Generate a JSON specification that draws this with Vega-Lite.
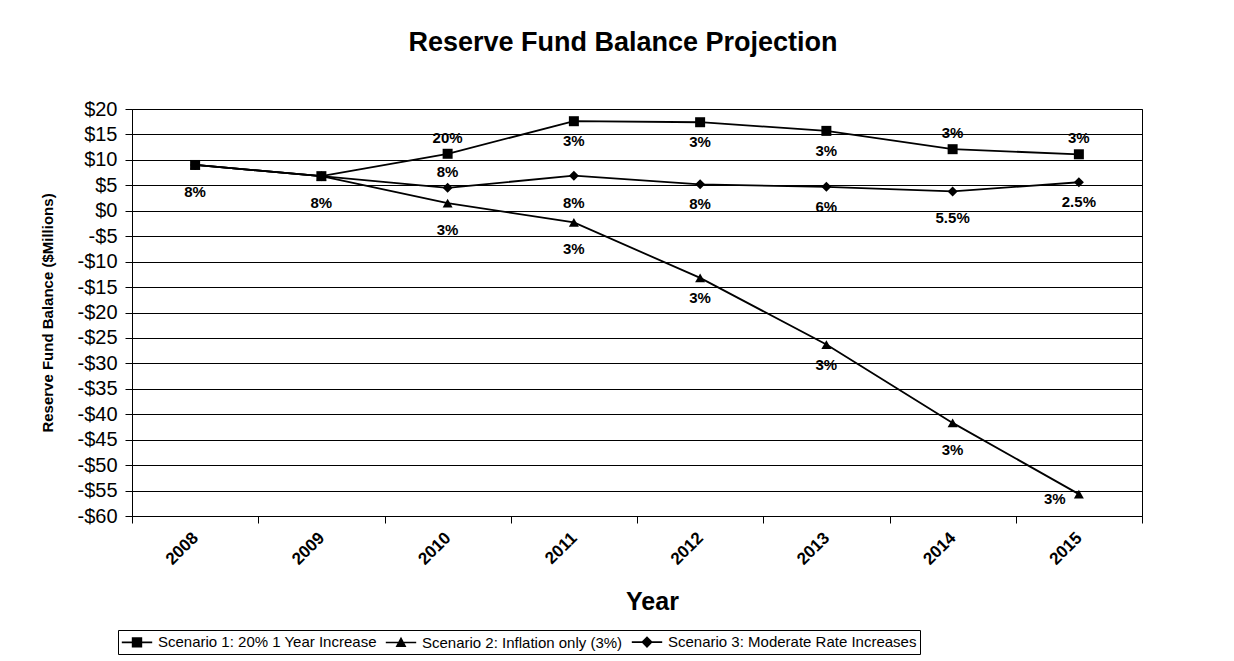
{
  "$schema": "https://vega.github.io/schema/vega-lite/v6.json",
  "width": 1010,
  "height": 407,
  "autosize": "none",
  "padding": {"left": 132, "top": 109, "right": 92, "bottom": 145},
  "background": "white",
  "config": {
    "font": "Liberation Sans",
    "view": {"stroke": "black", "strokeWidth": 1},
    "axis": {"domainColor": "black", "tickColor": "black", "gridColor": "black", "labelColor": "black", "titleColor": "black", "gridOpacity": 1}
  },
  "title": {"text": "Reserve Fund Balance Projection", "fontSize": 27, "font": "Liberation Sans", "fontWeight": "bold", "anchor": "middle", "dx": -14, "offset": 42, "color": "black"},
  "data": {
    "values": [
      {"year": "2008", "series": "Scenario 1: 20% 1 Year Increase", "value": 9.0, "label": "8%"},
      {"year": "2009", "series": "Scenario 1: 20% 1 Year Increase", "value": 6.8, "label": "8%"},
      {"year": "2010", "series": "Scenario 1: 20% 1 Year Increase", "value": 11.2, "label": "20%"},
      {"year": "2011", "series": "Scenario 1: 20% 1 Year Increase", "value": 17.6, "label": "3%"},
      {"year": "2012", "series": "Scenario 1: 20% 1 Year Increase", "value": 17.4, "label": "3%"},
      {"year": "2013", "series": "Scenario 1: 20% 1 Year Increase", "value": 15.7, "label": "3%"},
      {"year": "2014", "series": "Scenario 1: 20% 1 Year Increase", "value": 12.1, "label": "3%"},
      {"year": "2015", "series": "Scenario 1: 20% 1 Year Increase", "value": 11.1, "label": "3%"},
      {"year": "2008", "series": "Scenario 2: Inflation only (3%)", "value": 9.0, "label": null},
      {"year": "2009", "series": "Scenario 2: Inflation only (3%)", "value": 6.8, "label": null},
      {"year": "2010", "series": "Scenario 2: Inflation only (3%)", "value": 1.5, "label": "3%"},
      {"year": "2011", "series": "Scenario 2: Inflation only (3%)", "value": -2.3, "label": "3%"},
      {"year": "2012", "series": "Scenario 2: Inflation only (3%)", "value": -13.2, "label": "3%"},
      {"year": "2013", "series": "Scenario 2: Inflation only (3%)", "value": -26.3, "label": "3%"},
      {"year": "2014", "series": "Scenario 2: Inflation only (3%)", "value": -41.7, "label": "3%"},
      {"year": "2015", "series": "Scenario 2: Inflation only (3%)", "value": -55.7, "label": "3%"},
      {"year": "2008", "series": "Scenario 3: Moderate Rate Increases", "value": 9.0, "label": null},
      {"year": "2009", "series": "Scenario 3: Moderate Rate Increases", "value": 6.8, "label": null},
      {"year": "2010", "series": "Scenario 3: Moderate Rate Increases", "value": 4.5, "label": "8%"},
      {"year": "2011", "series": "Scenario 3: Moderate Rate Increases", "value": 6.9, "label": "8%"},
      {"year": "2012", "series": "Scenario 3: Moderate Rate Increases", "value": 5.2, "label": "8%"},
      {"year": "2013", "series": "Scenario 3: Moderate Rate Increases", "value": 4.7, "label": "6%"},
      {"year": "2014", "series": "Scenario 3: Moderate Rate Increases", "value": 3.8, "label": "5.5%"},
      {"year": "2015", "series": "Scenario 3: Moderate Rate Increases", "value": 5.6, "label": "2.5%"}
    ]
  },
  "encoding": {
    "x": {
      "field": "year", "type": "ordinal",
      "scale": {"type": "band", "paddingInner": 0, "paddingOuter": 0},
      "axis": {"title": "Year", "titleFontSize": 25, "titleFontWeight": "bold", "titlePadding": 22, "titleX": 520, "labelAngle": -45, "labelAlign": "right", "labelBaseline": "middle", "labelFontSize": 17, "labelFontWeight": "bold", "tickBand": "extent", "tickSize": 7, "labelPadding": 12, "grid": false}
    },
    "y": {
      "field": "value", "type": "quantitative",
      "scale": {"domain": [-60, 20], "nice": false, "zero": false},
      "axis": {"title": "Reserve Fund Balance ($Millions)", "titleFontSize": 15, "titleFontWeight": "bold", "titlePadding": 21, "values": [-60, -55, -50, -45, -40, -35, -30, -25, -20, -15, -10, -5, 0, 5, 10, 15, 20], "labelExpr": "(datum.value < 0 ? '-' : '') + '$' + abs(datum.value)", "labelFontSize": 20, "tickSize": 7, "labelPadding": 8, "grid": true, "gridWidth": 1}
    }
  },
  "layer": [
    {"mark": {"type": "line", "color": "black", "strokeWidth": 1.8}, "encoding": {"detail": {"field": "series"}}},
    {"mark": {"type": "point", "filled": true, "color": "black", "size": 100, "opacity": 1},
     "encoding": {"shape": {"field": "series", "type": "nominal", "scale": {"range": ["square", "triangle-up", "diamond"]}, "legend": null}}},
    {"transform": [{"filter": "false"}],
     "mark": {"type": "point", "filled": true, "fill": "black", "stroke": "black", "strokeWidth": 1.5, "opacity": 1},
     "encoding": {"shape": {"field": "series", "type": "nominal",
       "scale": {"domain": ["Scenario 1: 20% 1 Year Increase", "Scenario 2: Inflation only (3%)", "Scenario 3: Moderate Rate Increases"],
                 "range": ["M-1.9,-0.1H1.9V0.1H-1.9ZM-0.65,-0.65H0.65V0.65H-0.65Z", "M-1.9,-0.1H1.9V0.1H-1.9ZM0,-0.72L0.68,0.56H-0.68Z", "M-1.9,-0.1H1.9V0.1H-1.9ZM0,-0.72L0.72,0L0,0.72L-0.72,0Z"]},
       "legend": {"title": null, "orient": "none", "legendX": -14, "legendY": 521, "direction": "horizontal", "symbolSize": 256, "symbolOffset": 7, "symbolOpacity": 1, "symbolFillColor": "black", "symbolStrokeColor": "black", "symbolStrokeWidth": 1.5, "labelFontSize": 15, "labelColor": "black", "labelLimit": 500, "strokeColor": "black", "padding": 3, "columnPadding": 5, "labelOffset": 12}}}},
    {"transform": [{"filter": "datum.label != null && indexof(['1-2010','1-2014','1-2015','3-2010'], substring(datum.series,9,10) + '-' + datum.year) >= 0"}],
     "mark": {"type": "text", "fontSize": 15, "fontWeight": "bold", "color": "black", "dy": -16},
     "encoding": {"text": {"field": "label"}}},
    {"transform": [{"filter": "datum.label != null && indexof(['1-2008','1-2009','2-2010','2-2011','2-2014','3-2011','3-2014'], substring(datum.series,9,10) + '-' + datum.year) >= 0"}],
     "mark": {"type": "text", "fontSize": 15, "fontWeight": "bold", "color": "black", "dy": 27},
     "encoding": {"text": {"field": "label"}}},
    {"transform": [{"filter": "datum.label != null && indexof(['1-2011','1-2012','1-2013','2-2012','2-2013','3-2012','3-2013','3-2015'], substring(datum.series,9,10) + '-' + datum.year) >= 0"}],
     "mark": {"type": "text", "fontSize": 15, "fontWeight": "bold", "color": "black", "dy": 20},
     "encoding": {"text": {"field": "label"}}},
    {"transform": [{"filter": "datum.label != null && substring(datum.series,9,10) + '-' + datum.year == '2-2015'"}],
     "mark": {"type": "text", "fontSize": 15, "fontWeight": "bold", "color": "black", "dx": -24, "dy": 5},
     "encoding": {"text": {"field": "label"}}}
  ],
  "resolve": {"scale": {"shape": "independent"}}
}
